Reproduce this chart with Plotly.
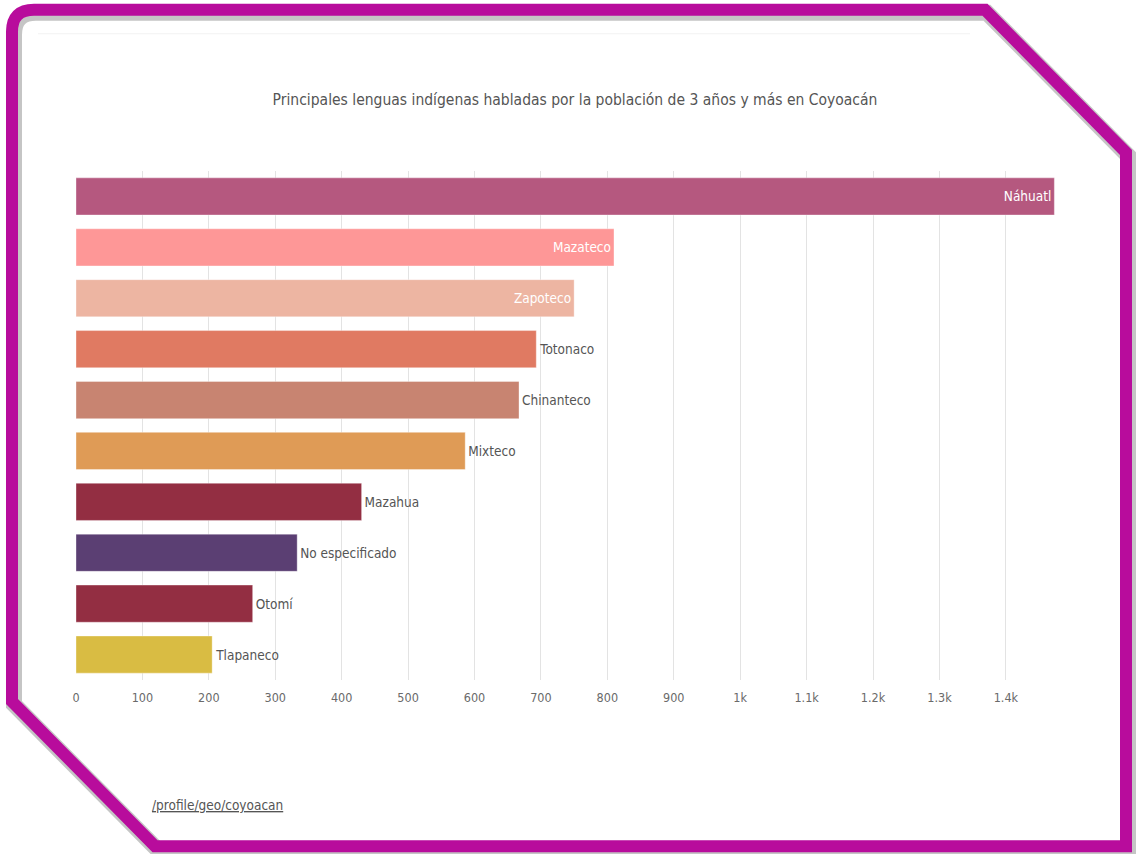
import plotly.graph_objects as go

categories = ["Náhuatl", "Mazateco", "Zapoteco", "Totonaco", "Chinanteco",
              "Mixteco", "Mazahua", "No especificado", "Otomí", "Tlapaneco"]
values = [1473, 810, 750, 693, 667, 586, 430, 333, 266, 205]
colors = ["#b5587f", "#fe9797", "#edb5a2", "#e07a62", "#c88471",
          "#df9b56", "#932e42", "#5b3f73", "#932e42", "#d9bc43"]
text_pos = ["inside", "inside", "inside", "outside", "outside",
            "outside", "outside", "outside", "outside", "outside"]
tick_vals = [0, 100, 200, 300, 400, 500, 600, 700, 800, 900, 1000, 1100, 1200, 1300, 1400]
tick_text = ["0", "100", "200", "300", "400", "500", "600", "700", "800", "900",
             "1k", "1.1k", "1.2k", "1.3k", "1.4k"]

W, H = 1137, 854
L, R, T, B = 76, 78, 170.5, 173.5
PW, PH = W - L - R, H - T - B
FONT = "DejaVu Sans Condensed, DejaVu Sans, sans-serif"

def px(x, y):
    return (x - L) / PW, 1 - (y - T) / PH

def path(points, close=True):
    parts = []
    for i, (x, y) in enumerate(points):
        a, b = px(x, y)
        parts.append(("M" if i == 0 else "L") + f"{a:.5f},{b:.5f}")
    return " ".join(parts) + (" Z" if close else "")

fig = go.Figure()
fig.add_trace(go.Bar(
    y=categories, x=values, orientation="h",
    marker=dict(color=colors, line=dict(color="rgba(255,255,255,0.35)", width=1)),
    text=categories, textposition=text_pos, insidetextanchor="end",
    insidetextfont=dict(color="white", size=13.5, family=FONT),
    outsidetextfont=dict(color="#555555", size=13.5, family=FONT),
    cliponaxis=False, hoverinfo="x+y",
))

frame_pts = [(34, 9), (985, 9), (1126, 152), (1126, 847), (155, 847),
             (12, 702), (12, 31)]

def frame_path(dx=0, dy=0):
    pts = [(x + dx, y + dy) for x, y in frame_pts]
    s = path(pts, close=False)
    c = px(12 + dx, 9 + dy)
    e = px(34 + dx, 9 + dy)
    return s + f" Q{c[0]:.5f},{c[1]:.5f} {e[0]:.5f},{e[1]:.5f} Z"

shapes = [
    dict(type="path", xref="paper", yref="paper", path=frame_path(2, 3),
         line=dict(color="rgba(90,90,90,0.35)", width=16), layer="above"),
    dict(type="path", xref="paper", yref="paper", path=frame_path(),
         line=dict(color="#b80c9c", width=12), layer="above"),
]
a0, b0 = px(38, 33)
a1, _ = px(970, 33)
shapes.append(dict(type="line", xref="paper", yref="paper", x0=a0, x1=a1, y0=b0, y1=b0,
                   line=dict(color="#f2f2f2", width=1), layer="below"))

sx, sy = px(150, 806)
fig.update_layout(
    width=W, height=H,
    margin=dict(l=L, r=R, t=T, b=B),
    paper_bgcolor="white", plot_bgcolor="white",
    showlegend=False,
    bargap=0.27,
    title=dict(text="Principales lenguas indígenas habladas por la población de 3 años y más en Coyoacán",
               x=575 / W, y=1 - 100 / H, xref="container", yref="container",
               xanchor="center", yanchor="middle",
               font=dict(family=FONT, size=15.5, color="#555555")),
    xaxis=dict(range=[0, 1480], tickvals=tick_vals, ticktext=tick_text,
               showgrid=True, gridcolor="#e3e3e3", gridwidth=1, zeroline=False,
               showline=False, ticks="", ticklabelstandoff=8,
               tickfont=dict(family=FONT, size=12.5, color="#6a6a6a")),
    yaxis=dict(autorange="reversed", showticklabels=False, showgrid=False, zeroline=False),
    shapes=shapes,
    annotations=[dict(text="<u>/profile/geo/coyoacan</u>", x=sx, y=sy, xref="paper", yref="paper",
                      xanchor="left", yanchor="middle", showarrow=False,
                      font=dict(family=FONT, size=13.5, color="#555555"))],
)

fig.write_html("out.html", post_script="document.body.style.margin='0';",
               config={"displayModeBar": False})
